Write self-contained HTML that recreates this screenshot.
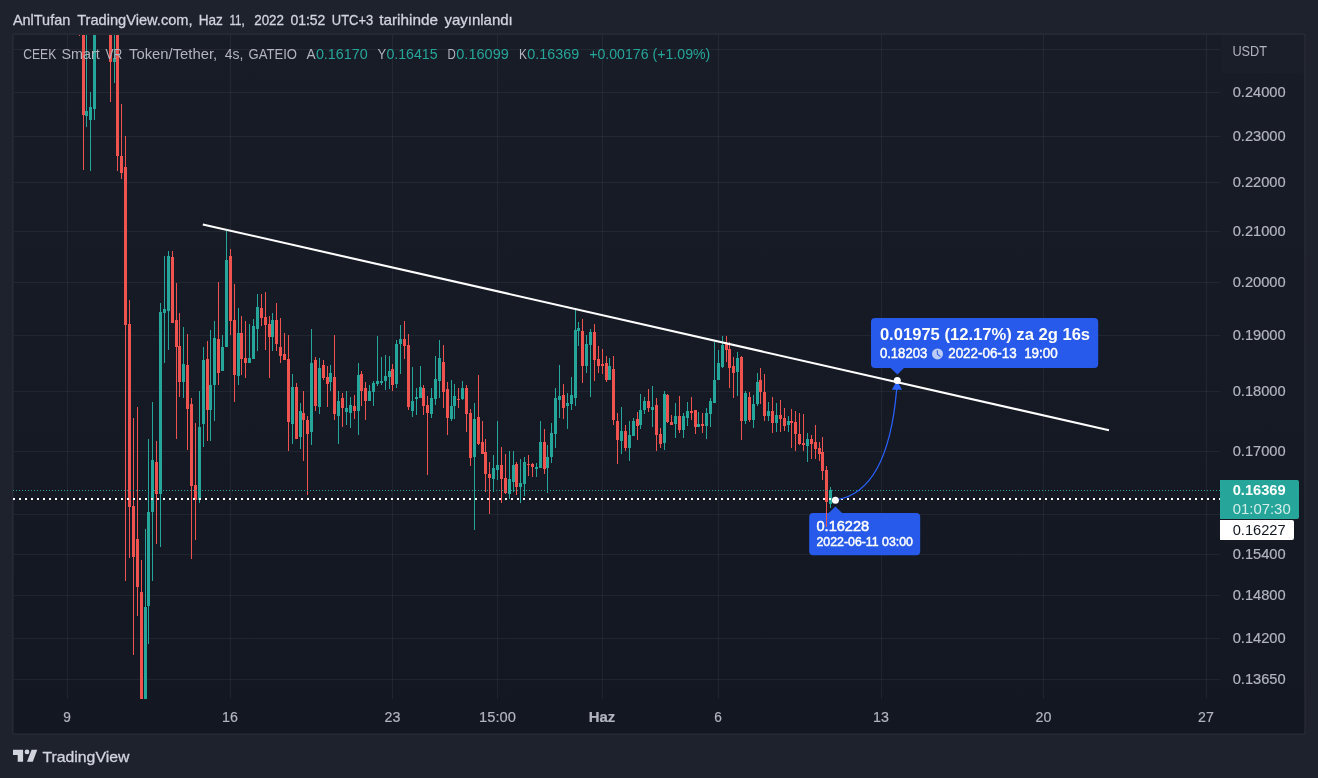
<!DOCTYPE html><html><head><meta charset="utf-8"><title>CEEKUSDT chart</title>
<style>html,body{margin:0;padding:0;background:#1e222d;overflow:hidden}svg{display:block;will-change:transform}text{font-family:"Liberation Sans","DejaVu Sans",sans-serif}</style></head><body>
<svg width="1318" height="778" viewBox="0 0 1318 778">
<defs><linearGradient id="bg" x1="0" y1="0" x2="0" y2="1"><stop offset="0" stop-color="#181c27"/><stop offset="1" stop-color="#131722"/></linearGradient><clipPath id="cp"><rect x="14" y="35" width="1206" height="664"/></clipPath></defs>
<rect width="1318" height="778" fill="#1e222d"/>
<rect x="12.9" y="34" width="1292.1" height="700.2" rx="1.5" fill="url(#bg)" stroke="#2a2e39" stroke-width="1.25"/><rect x="1221" y="35" width="83" height="38" rx="2" fill="#1a1e29"/>
<rect x="67" y="35" width="1" height="664" fill="#f0f3fa" fill-opacity="0.06"/>
<rect x="230" y="35" width="1" height="664" fill="#f0f3fa" fill-opacity="0.06"/>
<rect x="392" y="35" width="1" height="664" fill="#f0f3fa" fill-opacity="0.06"/>
<rect x="497" y="35" width="1" height="664" fill="#f0f3fa" fill-opacity="0.06"/>
<rect x="602" y="35" width="1" height="664" fill="#f0f3fa" fill-opacity="0.06"/>
<rect x="718" y="35" width="1" height="664" fill="#f0f3fa" fill-opacity="0.06"/>
<rect x="881" y="35" width="1" height="664" fill="#f0f3fa" fill-opacity="0.06"/>
<rect x="1043" y="35" width="1" height="664" fill="#f0f3fa" fill-opacity="0.06"/>
<rect x="1206" y="35" width="1" height="664" fill="#f0f3fa" fill-opacity="0.06"/>
<rect x="14" y="49" width="1206" height="1" fill="#f0f3fa" fill-opacity="0.06"/>
<rect x="14" y="92" width="1206" height="1" fill="#f0f3fa" fill-opacity="0.06"/>
<rect x="14" y="136" width="1206" height="1" fill="#f0f3fa" fill-opacity="0.06"/>
<rect x="14" y="182" width="1206" height="1" fill="#f0f3fa" fill-opacity="0.06"/>
<rect x="14" y="231" width="1206" height="1" fill="#f0f3fa" fill-opacity="0.06"/>
<rect x="14" y="282" width="1206" height="1" fill="#f0f3fa" fill-opacity="0.06"/>
<rect x="14" y="335" width="1206" height="1" fill="#f0f3fa" fill-opacity="0.06"/>
<rect x="14" y="391" width="1206" height="1" fill="#f0f3fa" fill-opacity="0.06"/>
<rect x="14" y="451" width="1206" height="1" fill="#f0f3fa" fill-opacity="0.06"/>
<rect x="14" y="514" width="1206" height="1" fill="#f0f3fa" fill-opacity="0.06"/>
<rect x="14" y="554" width="1206" height="1" fill="#f0f3fa" fill-opacity="0.06"/>
<rect x="14" y="595" width="1206" height="1" fill="#f0f3fa" fill-opacity="0.06"/>
<rect x="14" y="638" width="1206" height="1" fill="#f0f3fa" fill-opacity="0.06"/>
<rect x="14" y="679" width="1206" height="1" fill="#f0f3fa" fill-opacity="0.06"/>
<path d="M875 318 H1094.2 a4 4 0 0 1 4 4 V364 a4 4 0 0 1 -4 4 H904 L897.4 374.6 L890.6 368 H875 a4 4 0 0 1 -4 -4 V322 a4 4 0 0 1 4 -4 Z" fill="#275aea"/>
<path d="M813.2 513 H828.7 L835.4 506.5 L842.1 513 H916.2 a4 4 0 0 1 4 4 V551.2 a4 4 0 0 1 -4 4 H813.2 a4 4 0 0 1 -4 -4 V517 a4 4 0 0 1 4 -4 Z" fill="#275aea"/>
<g clip-path="url(#cp)" shape-rendering="crispEdges">
<path fill="#ef5350" d="M79 30h1V36h-1Z M78 30h3V31h-3Z M83 30h1V170h-1Z M82 30h3V115h-3Z M110 30h1V102h-1Z M109 30h3V62h-3Z M117 30h1V171h-1Z M116 30h3V156h-3Z M121 104h1V179h-1Z M120 156h3V173h-3Z M125 136h1V581h-1Z M124 167h3V325h-3Z M129 300h1V558h-1Z M128 324h3V507h-3Z M133 418h1V655h-1Z M132 506h3V557h-3Z M137 407h1V616h-1Z M136 539h3V587h-3Z M141 560h1V705h-1Z M140 592h3V705h-3Z M156 441h1V544h-1Z M155 462h3V494h-3Z M172 251h1V323h-1Z M171 257h3V323h-3Z M176 283h1V439h-1Z M175 320h3V347h-3Z M179 313h1V397h-1Z M178 346h3V382h-3Z M187 334h1V450h-1Z M186 365h3V409h-3Z M191 398h1V559h-1Z M190 404h3V486h-3Z M195 423h1V540h-1Z M194 485h3V500h-3Z M207 341h1V441h-1Z M206 359h3V410h-3Z M218 282h1V385h-1Z M217 339h3V373h-3Z M230 249h1V335h-1Z M229 256h3V321h-3Z M234 284h1V402h-1Z M233 320h3V375h-3Z M241 316h1V375h-1Z M240 333h3V359h-3Z M245 321h1V378h-1Z M244 358h3V363h-3Z M261 294h1V326h-1Z M260 308h3V318h-3Z M265 292h1V350h-1Z M264 317h3V325h-3Z M269 316h1V378h-1Z M268 324h3V337h-3Z M276 303h1V351h-1Z M275 320h3V344h-3Z M280 318h1V363h-1Z M279 347h3V356h-3Z M284 333h1V360h-1Z M283 354h3V360h-3Z M288 335h1V451h-1Z M287 359h3V422h-3Z M296 383h1V439h-1Z M295 387h3V439h-3Z M303 391h1V461h-1Z M302 413h3V420h-3Z M307 416h1V495h-1Z M306 420h3V434h-3Z M315 357h1V411h-1Z M314 360h3V406h-3Z M323 360h1V380h-1Z M322 365h3V378h-3Z M327 366h1V407h-1Z M326 377h3V384h-3Z M334 335h1V420h-1Z M333 377h3V414h-3Z M342 393h1V427h-1Z M341 398h3V408h-3Z M354 395h1V419h-1Z M353 406h3V411h-3Z M361 371h1V406h-1Z M360 374h3V391h-3Z M365 382h1V420h-1Z M364 388h3V401h-3Z M392 364h1V391h-1Z M391 369h3V385h-3Z M404 321h1V359h-1Z M403 339h3V346h-3Z M408 334h1V410h-1Z M407 345h3V407h-3Z M423 385h1V415h-1Z M422 388h3V406h-3Z M427 396h1V475h-1Z M426 405h3V413h-3Z M443 345h1V408h-1Z M442 362h3V392h-3Z M447 382h1V435h-1Z M446 389h3V418h-3Z M458 388h1V408h-1Z M457 399h3V400h-3Z M466 385h1V432h-1Z M465 388h3V414h-3Z M470 409h1V466h-1Z M469 413h3V458h-3Z M478 375h1V445h-1Z M477 417h3V444h-3Z M482 421h1V454h-1Z M481 442h3V454h-3Z M485 439h1V492h-1Z M484 452h3V474h-3Z M489 462h1V514h-1Z M488 474h3V478h-3Z M501 447h1V503h-1Z M500 465h3V479h-3Z M505 454h1V494h-1Z M504 478h3V493h-3Z M516 462h1V495h-1Z M515 464h3V487h-3Z M528 455h1V476h-1Z M527 464h3V465h-3Z M532 463h1V477h-1Z M531 464h3V467h-3Z M544 429h1V474h-1Z M543 442h3V469h-3Z M563 384h1V419h-1Z M562 395h3V408h-3Z M582 319h1V383h-1Z M581 331h3V366h-3Z M594 324h1V381h-1Z M593 332h3V360h-3Z M598 346h1V373h-1Z M597 359h3V366h-3Z M602 349h1V374h-1Z M601 364h3V366h-3Z M606 356h1V382h-1Z M605 363h3V380h-3Z M613 356h1V425h-1Z M612 369h3V420h-3Z M617 413h1V464h-1Z M616 421h3V440h-3Z M625 425h1V451h-1Z M624 431h3V448h-3Z M637 412h1V440h-1Z M636 419h3V426h-3Z M648 389h1V412h-1Z M647 401h3V408h-3Z M656 398h1V451h-1Z M655 405h3V435h-3Z M660 428h1V448h-1Z M659 434h3V444h-3Z M667 394h1V423h-1Z M666 395h3V422h-3Z M671 415h1V425h-1Z M670 422h3V425h-3Z M679 396h1V433h-1Z M678 416h3V430h-3Z M691 397h1V420h-1Z M690 411h3V413h-3Z M695 410h1V434h-1Z M694 410h3V427h-3Z M702 413h1V433h-1Z M701 424h3V426h-3Z M726 336h1V362h-1Z M725 344h3V350h-3Z M729 342h1V388h-1Z M728 349h3V368h-3Z M733 357h1V398h-1Z M732 366h3V373h-3Z M741 356h1V440h-1Z M740 357h3V421h-3Z M749 392h1V422h-1Z M748 397h3V420h-3Z M760 368h1V404h-1Z M759 380h3V392h-3Z M764 374h1V421h-1Z M763 392h3V416h-3Z M772 397h1V433h-1Z M771 411h3V423h-3Z M780 400h1V432h-1Z M779 415h3V419h-3Z M784 408h1V431h-1Z M783 418h3V426h-3Z M791 409h1V448h-1Z M790 421h3V423h-3Z M795 411h1V451h-1Z M794 422h3V434h-3Z M799 413h1V445h-1Z M798 434h3V444h-3Z M803 414h1V451h-1Z M802 443h3V445h-3Z M811 435h1V459h-1Z M810 439h3V444h-3Z M815 425h1V459h-1Z M814 442h3V449h-3Z M819 442h1V461h-1Z M818 448h3V454h-3Z M822 437h1V480h-1Z M821 452h3V471h-3Z M826 466h1V527h-1Z M825 470h3V502h-3Z"/>
<path fill="#26a69a" d="M86 30h1V127h-1Z M85 111h3V116h-3Z M90 92h1V171h-1Z M89 107h3V120h-3Z M94 30h1V120h-1Z M93 30h3V109h-3Z M114 30h1V83h-1Z M113 58h3V62h-3Z M145 529h1V705h-1Z M144 607h3V705h-3Z M148 439h1V644h-1Z M147 512h3V606h-3Z M152 402h1V581h-1Z M151 460h3V512h-3Z M160 303h1V547h-1Z M159 312h3V494h-3Z M164 256h1V363h-1Z M163 309h3V313h-3Z M168 251h1V350h-1Z M167 256h3V311h-3Z M183 327h1V398h-1Z M182 364h3V382h-3Z M199 391h1V503h-1Z M198 427h3V500h-3Z M203 347h1V447h-1Z M202 360h3V424h-3Z M210 330h1V441h-1Z M209 385h3V410h-3Z M214 321h1V421h-1Z M213 338h3V385h-3Z M222 335h1V371h-1Z M221 347h3V371h-3Z M226 231h1V347h-1Z M225 260h3V347h-3Z M238 308h1V385h-1Z M237 333h3V376h-3Z M249 324h1V363h-1Z M248 358h3V363h-3Z M253 319h1V359h-1Z M252 326h3V359h-3Z M257 294h1V351h-1Z M256 307h3V329h-3Z M272 313h1V351h-1Z M271 320h3V337h-3Z M292 374h1V444h-1Z M291 387h3V424h-3Z M300 403h1V449h-1Z M299 411h3V437h-3Z M311 329h1V445h-1Z M310 363h3V432h-3Z M319 358h1V414h-1Z M318 368h3V407h-3Z M330 365h1V391h-1Z M329 373h3V382h-3Z M338 391h1V444h-1Z M337 401h3V416h-3Z M346 391h1V425h-1Z M345 408h3V412h-3Z M350 397h1V428h-1Z M349 405h3V413h-3Z M358 363h1V435h-1Z M357 375h3V411h-3Z M369 385h1V401h-1Z M368 391h3V401h-3Z M373 381h1V406h-1Z M372 383h3V392h-3Z M377 336h1V386h-1Z M376 381h3V384h-3Z M381 357h1V385h-1Z M380 381h3V383h-3Z M385 355h1V390h-1Z M384 376h3V381h-3Z M389 356h1V389h-1Z M388 371h3V377h-3Z M396 340h1V388h-1Z M395 344h3V384h-3Z M400 325h1V374h-1Z M399 339h3V344h-3Z M412 367h1V417h-1Z M411 401h3V411h-3Z M416 388h1V415h-1Z M415 397h3V399h-3Z M420 366h1V398h-1Z M419 387h3V398h-3Z M431 388h1V418h-1Z M430 398h3V414h-3Z M435 356h1V405h-1Z M434 379h3V399h-3Z M439 340h1V398h-1Z M438 358h3V381h-3Z M451 380h1V421h-1Z M450 406h3V419h-3Z M454 384h1V419h-1Z M453 396h3V406h-3Z M462 381h1V400h-1Z M461 388h3V399h-3Z M474 403h1V530h-1Z M473 419h3V457h-3Z M493 455h1V492h-1Z M492 468h3V479h-3Z M497 421h1V480h-1Z M496 465h3V470h-3Z M509 451h1V499h-1Z M508 479h3V494h-3Z M513 451h1V492h-1Z M512 465h3V482h-3Z M520 459h1V503h-1Z M519 483h3V487h-3Z M524 457h1V496h-1Z M523 462h3V484h-3Z M536 463h1V477h-1Z M535 467h3V469h-3Z M540 421h1V468h-1Z M539 442h3V468h-3Z M547 445h1V493h-1Z M546 457h3V468h-3Z M551 423h1V463h-1Z M550 433h3V457h-3Z M555 388h1V448h-1Z M554 398h3V434h-3Z M559 365h1V418h-1Z M558 396h3V400h-3Z M567 393h1V429h-1Z M566 403h3V406h-3Z M571 377h1V410h-1Z M570 395h3V404h-3Z M575 308h1V406h-1Z M574 330h3V398h-3Z M578 322h1V346h-1Z M577 328h3V331h-3Z M586 335h1V373h-1Z M585 344h3V366h-3Z M590 329h1V397h-1Z M589 332h3V345h-3Z M609 358h1V380h-1Z M608 366h3V380h-3Z M621 407h1V454h-1Z M620 431h3V441h-3Z M629 421h1V461h-1Z M628 435h3V448h-3Z M633 418h1V436h-1Z M632 421h3V436h-3Z M640 394h1V429h-1Z M639 410h3V425h-3Z M644 397h1V414h-1Z M643 401h3V410h-3Z M652 386h1V427h-1Z M651 407h3V410h-3Z M664 391h1V450h-1Z M663 394h3V443h-3Z M675 403h1V438h-1Z M674 416h3V424h-3Z M683 413h1V438h-1Z M682 416h3V430h-3Z M687 402h1V426h-1Z M686 411h3V418h-3Z M698 412h1V427h-1Z M697 424h3V427h-3Z M706 408h1V439h-1Z M705 413h3V426h-3Z M710 398h1V427h-1Z M709 401h3V414h-3Z M714 342h1V403h-1Z M713 380h3V403h-3Z M718 350h1V380h-1Z M717 363h3V380h-3Z M722 336h1V368h-1Z M721 345h3V367h-3Z M737 352h1V396h-1Z M736 358h3V372h-3Z M745 391h1V424h-1Z M744 393h3V421h-3Z M753 395h1V428h-1Z M752 404h3V420h-3Z M757 373h1V406h-1Z M756 382h3V404h-3Z M768 402h1V421h-1Z M767 411h3V416h-3Z M776 403h1V432h-1Z M775 415h3V423h-3Z M788 416h1V432h-1Z M787 421h3V425h-3Z M807 433h1V462h-1Z M806 439h3V446h-3Z M830 487h1V508h-1Z M829 490h3V504h-3Z"/>
</g>
<line x1="13" x2="1220" y1="490.5" y2="490.5" stroke="#26a69a" stroke-width="1" stroke-dasharray="1 2"/>
<line x1="13" x2="1220" y1="499" y2="499" stroke="#ffffff" stroke-width="2" stroke-dasharray="2 4"/>
<line x1="202.8" y1="224.4" x2="1109" y2="430.3" stroke="#ffffff" stroke-width="2.1"/>
<path d="M835.4 500 Q888 492.5 896.7 389" fill="none" stroke="#2962ff" stroke-width="1.25"/>
<path d="M897 380.5 L902 389.8 L891.8 389.8 Z" fill="#2962ff"/>
<circle cx="897.3" cy="380.5" r="3.5" fill="#fff"/>
<circle cx="835.4" cy="500.3" r="3.5" fill="#fff"/>
<text x="879.9" y="339.8" font-size="17" font-weight="700" fill="#fff" textLength="210.2" lengthAdjust="spacingAndGlyphs">0.01975 (12.17%) za 2g 16s</text>
<text x="879.9" y="358" font-size="13.9" fill="#fff" stroke="#fff" stroke-width="0.45" textLength="47.4" lengthAdjust="spacingAndGlyphs">0.18203</text>
<circle cx="937.5" cy="353.9" r="5.5" fill="#bccbf8"/><path d="M937.3 350.3 L937.5 354.2 L940.4 356.6" fill="none" stroke="#3a68ea" stroke-width="1.2"/>
<text x="948.2" y="358" font-size="13.9" fill="#fff" stroke="#fff" stroke-width="0.45" textLength="109.5" lengthAdjust="spacingAndGlyphs" xml:space="preserve">2022-06-13  19:00</text>
<text x="816.5" y="530.8" font-size="14.6" fill="#fff" stroke="#fff" stroke-width="0.5" textLength="52.7" lengthAdjust="spacingAndGlyphs">0.16228</text>
<text x="816.5" y="545.8" font-size="12" fill="#fff" stroke="#fff" stroke-width="0.45" textLength="96.4" lengthAdjust="spacingAndGlyphs">2022-06-11 03:00</text>
<text x="1232.7" y="96.8" font-size="14.6" fill="#b2b5be" stroke="#b2b5be" stroke-width="0.2" textLength="53" lengthAdjust="spacingAndGlyphs">0.24000</text>
<text x="1232.7" y="140.8" font-size="14.6" fill="#b2b5be" stroke="#b2b5be" stroke-width="0.2" textLength="53" lengthAdjust="spacingAndGlyphs">0.23000</text>
<text x="1232.7" y="186.8" font-size="14.6" fill="#b2b5be" stroke="#b2b5be" stroke-width="0.2" textLength="53" lengthAdjust="spacingAndGlyphs">0.22000</text>
<text x="1232.7" y="235.8" font-size="14.6" fill="#b2b5be" stroke="#b2b5be" stroke-width="0.2" textLength="53" lengthAdjust="spacingAndGlyphs">0.21000</text>
<text x="1232.7" y="286.8" font-size="14.6" fill="#b2b5be" stroke="#b2b5be" stroke-width="0.2" textLength="53" lengthAdjust="spacingAndGlyphs">0.20000</text>
<text x="1232.7" y="339.8" font-size="14.6" fill="#b2b5be" stroke="#b2b5be" stroke-width="0.2" textLength="53" lengthAdjust="spacingAndGlyphs">0.19000</text>
<text x="1232.7" y="395.8" font-size="14.6" fill="#b2b5be" stroke="#b2b5be" stroke-width="0.2" textLength="53" lengthAdjust="spacingAndGlyphs">0.18000</text>
<text x="1232.7" y="455.8" font-size="14.6" fill="#b2b5be" stroke="#b2b5be" stroke-width="0.2" textLength="53" lengthAdjust="spacingAndGlyphs">0.17000</text>
<text x="1232.7" y="558.8" font-size="14.6" fill="#b2b5be" stroke="#b2b5be" stroke-width="0.2" textLength="53" lengthAdjust="spacingAndGlyphs">0.15400</text>
<text x="1232.7" y="599.8" font-size="14.6" fill="#b2b5be" stroke="#b2b5be" stroke-width="0.2" textLength="53" lengthAdjust="spacingAndGlyphs">0.14800</text>
<text x="1232.7" y="642.8" font-size="14.6" fill="#b2b5be" stroke="#b2b5be" stroke-width="0.2" textLength="53" lengthAdjust="spacingAndGlyphs">0.14200</text>
<text x="1232.7" y="683.8" font-size="14.6" fill="#b2b5be" stroke="#b2b5be" stroke-width="0.2" textLength="53" lengthAdjust="spacingAndGlyphs">0.13650</text>
<text x="1232.4" y="56" font-size="14.6" fill="#b2b5be" textLength="34.6" lengthAdjust="spacingAndGlyphs">USDT</text>
<path d="M1220 480 H1297 a2 2 0 0 1 2 2 V517 a2 2 0 0 1 -2 2 H1220 Z" fill="#26a69a"/>
<text x="1232.7" y="495.3" font-size="14.6" font-weight="700" fill="#fff" textLength="53" lengthAdjust="spacingAndGlyphs">0.16369</text>
<text x="1232.7" y="513.7" font-size="14.6" fill="#d4edea" textLength="58" lengthAdjust="spacingAndGlyphs">01:07:30</text>
<path d="M1220 520 H1292 a2 2 0 0 1 2 2 V538 a2 2 0 0 1 -2 2 H1220 Z" fill="#ffffff"/>
<text x="1232.7" y="534.7" font-size="14.6" fill="#131722" textLength="53" lengthAdjust="spacingAndGlyphs">0.16227</text>
<text x="63.2" y="722.3" font-size="14.6" fill="#b2b5be" stroke="#b2b5be" stroke-width="0.2" textLength="7.6" lengthAdjust="spacingAndGlyphs">9</text>
<text x="222.1" y="722.3" font-size="14.6" fill="#b2b5be" stroke="#b2b5be" stroke-width="0.2" textLength="15.8" lengthAdjust="spacingAndGlyphs">16</text>
<text x="384.6" y="722.3" font-size="14.6" fill="#b2b5be" stroke="#b2b5be" stroke-width="0.2" textLength="15.8" lengthAdjust="spacingAndGlyphs">23</text>
<text x="479.1" y="722.3" font-size="14.6" fill="#b2b5be" stroke="#b2b5be" stroke-width="0.2" textLength="36.7" lengthAdjust="spacingAndGlyphs">15:00</text>
<text x="588.8" y="722.3" font-size="14.6" font-weight="700" fill="#b2b5be" stroke="#b2b5be" stroke-width="0.2" textLength="26.5" lengthAdjust="spacingAndGlyphs">Haz</text>
<text x="714.2" y="722.3" font-size="14.6" fill="#b2b5be" stroke="#b2b5be" stroke-width="0.2" textLength="7.6" lengthAdjust="spacingAndGlyphs">6</text>
<text x="873.1" y="722.3" font-size="14.6" fill="#b2b5be" stroke="#b2b5be" stroke-width="0.2" textLength="15.8" lengthAdjust="spacingAndGlyphs">13</text>
<text x="1035.6" y="722.3" font-size="14.6" fill="#b2b5be" stroke="#b2b5be" stroke-width="0.2" textLength="15.8" lengthAdjust="spacingAndGlyphs">20</text>
<text x="1198.1" y="722.3" font-size="14.6" fill="#b2b5be" stroke="#b2b5be" stroke-width="0.2" textLength="15.8" lengthAdjust="spacingAndGlyphs">27</text>
<g font-size="15" fill="#d1d4dc" stroke="#d1d4dc" stroke-width="0.3"><text x="12.9" y="25.2" textLength="57.4" lengthAdjust="spacingAndGlyphs">AnlTufan</text><text x="77.2" y="25.2" textLength="115.4" lengthAdjust="spacingAndGlyphs">TradingView.com,</text><text x="198.7" y="25.2" textLength="24.2" lengthAdjust="spacingAndGlyphs">Haz</text><text x="229.5" y="25.2" textLength="15.3" lengthAdjust="spacingAndGlyphs">11,</text><text x="254.2" y="25.2" textLength="29.8" lengthAdjust="spacingAndGlyphs">2022</text><text x="290.4" y="25.2" textLength="35.0" lengthAdjust="spacingAndGlyphs">01:52</text><text x="331.8" y="25.2" textLength="41.4" lengthAdjust="spacingAndGlyphs">UTC+3</text><text x="379.2" y="25.2" textLength="58.8" lengthAdjust="spacingAndGlyphs">tarihinde</text><text x="444.4" y="25.2" textLength="68.4" lengthAdjust="spacingAndGlyphs">yayınlandı</text></g>
<g font-size="14.6" fill="#b2b5be">
<text x="23.2" y="58.8" textLength="33.1" lengthAdjust="spacingAndGlyphs">CEEK</text><text x="61.5" y="58.8" textLength="38.3" lengthAdjust="spacingAndGlyphs">Smart</text><text x="105.5" y="58.8" textLength="16.8" lengthAdjust="spacingAndGlyphs">VR</text><text x="129" y="58.8" textLength="88.2" lengthAdjust="spacingAndGlyphs">Token/Tether,</text><text x="224.8" y="58.8" textLength="18.6" lengthAdjust="spacingAndGlyphs">4s,</text><text x="248.5" y="58.8" textLength="48.5" lengthAdjust="spacingAndGlyphs">GATEIO</text>
<text x="306.4" y="58.8" textLength="9.1" lengthAdjust="spacingAndGlyphs">A</text>
<text x="377.5" y="58.8" textLength="8.7" lengthAdjust="spacingAndGlyphs">Y</text>
<text x="447.6" y="58.8" textLength="8.3" lengthAdjust="spacingAndGlyphs">D</text>
<text x="519.1" y="58.8" textLength="7.9" lengthAdjust="spacingAndGlyphs">K</text>
</g>
<g font-size="14.6" fill="#26a69a">
<text x="315.9" y="58.8" textLength="51.9" lengthAdjust="spacingAndGlyphs">0.16170</text>
<text x="386.4" y="58.8" textLength="51.2" lengthAdjust="spacingAndGlyphs">0.16415</text>
<text x="456.3" y="58.8" textLength="52.5" lengthAdjust="spacingAndGlyphs">0.16099</text>
<text x="527.3" y="58.8" textLength="51.9" lengthAdjust="spacingAndGlyphs">0.16369</text>
<text x="589.2" y="58.8" textLength="121.1" lengthAdjust="spacingAndGlyphs">+0.00176 (+1.09%)</text>
</g>

<g fill="#d1d4dc">
<path d="M13 749.8 H23.1 V761.8 H17.7 V754.9 H13 Z"/>
<circle cx="27" cy="751.9" r="2.4"/>
<path d="M31.6 749.8 H37.3 L32.8 761.8 H27 Z"/>
<text x="42.4" y="761.8" font-size="15" textLength="87" lengthAdjust="spacingAndGlyphs" stroke="#d1d4dc" stroke-width="0.3">TradingView</text>
</g>

</svg></body></html>
